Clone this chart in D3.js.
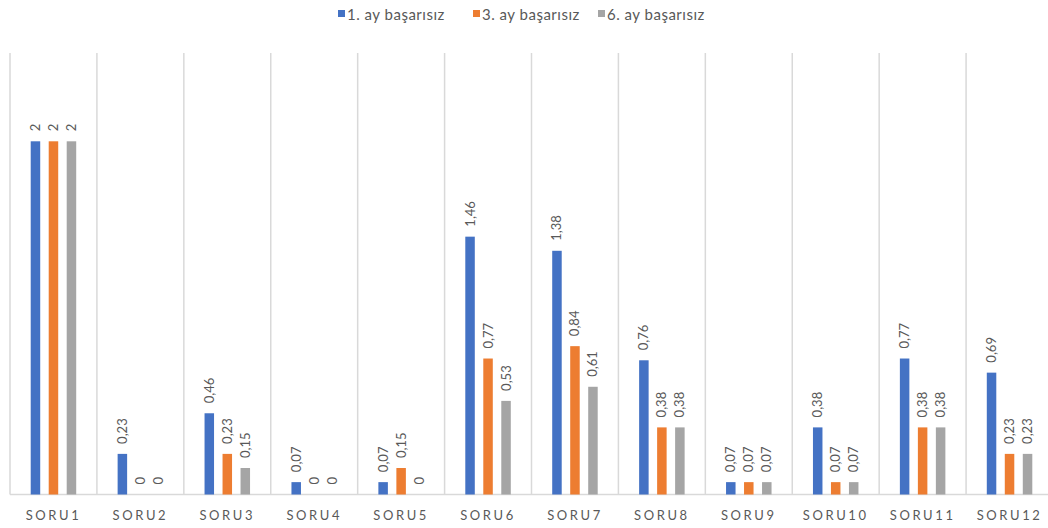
<!DOCTYPE html>
<html>
<head>
<meta charset="utf-8">
<script src="https://cdn.jsdelivr.net/npm/d3@7"></script>
<style>
  html, body { margin: 0; padding: 0; background: #fff; }
  svg { display: block; font-family: Lato, "Open Sans", sans-serif; }
</style>
</head>
<body>
<svg id="chart" width="1048" height="528"></svg>
<script>
// Question labels along the horizontal axis
const categories = ["SORU1","SORU2","SORU3","SORU4","SORU5","SORU6","SORU7","SORU8","SORU9","SORU10","SORU11","SORU12"];
// Series names shown in the legend
const seriesNames = ["1. ay başarısız", "3. ay başarısız", "6. ay başarısız"];
// Values per series, one per question
const month1 = [2, 0.23, 0.46, 0.07, 0.07, 1.46, 1.38, 0.76, 0.07, 0.38, 0.77, 0.69];
const month3 = [2, 0, 0.23, 0, 0.15, 0.77, 0.84, 0.38, 0.07, 0.07, 0.38, 0.23];
const month6 = [2, 0, 0.15, 0, 0, 0.53, 0.61, 0.38, 0.07, 0.07, 0.38, 0.23];
const seriesColors = ["#4472C4", "#ED7D31", "#A5A5A5"];

const seriesValues = [month1, month3, month6];
const svg = d3.select("#chart");

const groupWidth = 45.5;
const x = d3.scaleBand().domain(categories).range([10, 1053]).padding(0);
const sub = d3.scaleBand().domain(d3.range(seriesNames.length)).range([0, groupWidth]).paddingInner(0.472).paddingOuter(0);
const y = d3.scaleLinear().domain([0, 2.5]).range([494.5, 53]);

// Vertical separators between question groups
svg.append("g").selectAll("line")
  .data(categories)
  .join("line")
  .attr("x1", d => x(d)).attr("x2", d => x(d))
  .attr("y1", y(2.5)).attr("y2", y(0))
  .attr("stroke", "#d9d9d9").attr("stroke-width", 1.5);

// Baseline
svg.append("line")
  .attr("x1", 10).attr("x2", 1048)
  .attr("y1", y(0)).attr("y2", y(0))
  .attr("stroke", "#d9d9d9").attr("stroke-width", 1.5);

// Category axis
const xAxis = svg.append("g")
  .attr("transform", `translate(0,${y(0)})`)
  .call(d3.axisBottom(x).tickSize(0).tickPadding(16));
xAxis.select(".domain").remove();
xAxis.selectAll("text")
  .attr("fill", "#595959")
  .style("font-size", "13px")
  .style("letter-spacing", "2.6px")
  .style("font-family", "Lato, 'Open Sans', sans-serif");

const groupOffset = (x.bandwidth() - groupWidth) / 2;
const fmt = v => String(v).replace(".", ",");

seriesValues.forEach((vals, s) => {
  const g = svg.append("g");
  g.selectAll("rect")
    .data(vals.map((v, i) => ({ v, c: categories[i] })))
    .join("rect")
    .attr("x", d => x(d.c) + groupOffset + sub(s))
    .attr("width", sub.bandwidth())
    .attr("y", d => y(d.v))
    .attr("height", d => y(0) - y(d.v))
    .attr("fill", seriesColors[s]);

  g.selectAll("text")
    .data(vals.map((v, i) => ({ v, c: categories[i] })))
    .join("text")
    .attr("transform", d => {
      const cx = x(d.c) + groupOffset + sub(s) + sub.bandwidth() / 2;
      return `translate(${cx + 4.5},${y(d.v) - 10}) rotate(-90)`;
    })
    .attr("text-anchor", "start")
    .attr("fill", "#595959")
    .style("font-size", "13px")
    .text(d => fmt(d.v));
});

// Legend
const legendX = [338, 473, 598];
const legend = svg.append("g");
seriesNames.forEach((name, i) => {
  legend.append("rect")
    .attr("x", legendX[i]).attr("y", 10)
    .attr("width", 7).attr("height", 7)
    .attr("fill", seriesColors[i]);
  legend.append("text")
    .attr("x", legendX[i] + 9).attr("y", 19.5)
    .attr("fill", "#595959")
    .style("font-size", "15px")
    .style("letter-spacing", "0.5px")
    .text(name);
});
</script>
</body>
</html>
